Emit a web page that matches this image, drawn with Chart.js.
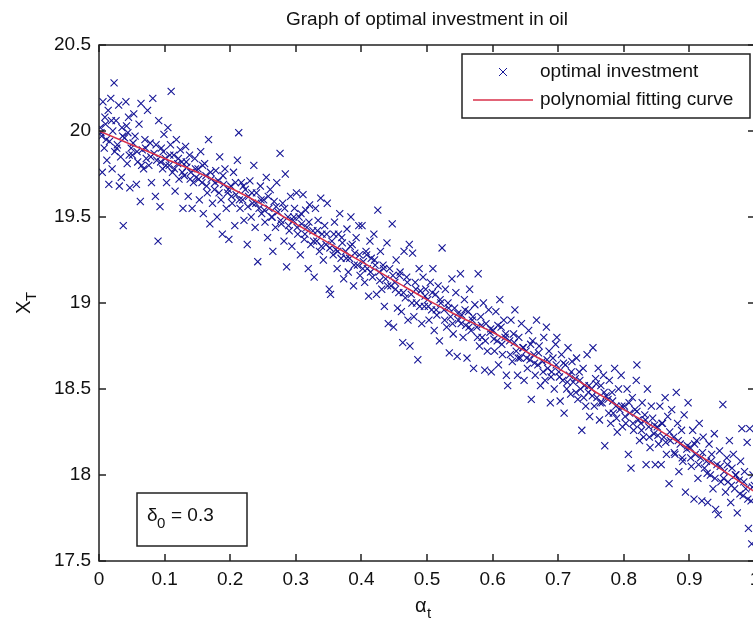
<!DOCTYPE html>
<html>
<head>
<meta charset="utf-8">
<title>Graph of optimal investment in oil</title>
<script src="https://cdn.jsdelivr.net/npm/chart.js@4/dist/chart.umd.min.js"></script>
<style>
  html, body { margin: 0; padding: 0; background: #fff; overflow: hidden; }
  #wrap { width: 800px; height: 620px; }
</style>
</head>
<body>
<div id="wrap"><canvas id="oilChart" width="800" height="620"></canvas></div>
<script>
// --- data ---
const xTicks = [0, 0.1, 0.2, 0.3, 0.4, 0.5, 0.6, 0.7, 0.8, 0.9, 1];
const yTicks = [17.5, 18, 18.5, 19, 19.5, 20, 20.5];

// polynomial fitting curve
const fitAlpha = [0, 0.05, 0.1, 0.15, 0.2, 0.25, 0.3, 0.35, 0.4, 0.45, 0.5, 0.55, 0.6, 0.65, 0.7, 0.75, 0.8, 0.85, 0.9, 0.95, 1];
const fitValues = [20.0, 19.92, 19.84, 19.76, 19.67, 19.57, 19.46, 19.35, 19.24, 19.13, 19.02, 18.92, 18.83, 18.72, 18.62, 18.5, 18.38, 18.27, 18.15, 18.03, 17.9];

// optimal investment samples [alpha_t, X_T], the wider spread
const investPoints = [
  [0.002,20.02],[0.004,19.97],[0.006,20.17],[0.008,19.9],[0.01,20.04],[0.012,19.83],[0.014,20.12],[0.016,19.94],[0.018,20.19],[0.02,19.78],[0.021,20.0],[0.023,20.28],[0.024,19.88],[0.005,19.76],[0.015,19.69],
  [0.026,20.06],[0.028,19.92],[0.03,20.15],[0.031,19.68],[0.033,19.85],[0.035,20.02],[0.037,19.45],[0.039,19.96],[0.041,20.17],[0.043,19.81],[0.045,20.08],[0.047,19.67],[0.049,19.9],[0.034,19.73],[0.044,19.99],
  [0.051,19.86],[0.053,20.1],[0.055,19.97],[0.057,19.69],[0.059,19.82],[0.061,20.04],[0.063,19.59],[0.064,20.16],[0.066,19.89],[0.068,19.78],[0.07,19.95],[0.072,19.84],[0.074,20.12],
  [0.076,19.8],[0.078,19.93],[0.08,19.7],[0.082,20.19],[0.084,19.87],[0.086,19.62],[0.088,19.83],[0.09,19.36],[0.091,20.06],[0.093,19.56],[0.095,19.9],[0.097,19.78],[0.099,19.98],
  [0.101,19.84],[0.103,19.7],[0.105,20.02],[0.107,19.8],[0.109,19.92],[0.11,20.23],[0.112,19.76],[0.114,19.86],[0.116,19.65],[0.118,19.95],[0.12,19.81],[0.122,19.72],[0.124,19.89],
  [0.126,19.82],[0.128,19.55],[0.13,19.74],[0.132,19.91],[0.134,19.79],[0.136,19.62],[0.138,19.86],[0.14,19.76],[0.142,19.55],[0.144,19.7],[0.146,19.84],[0.148,19.73],
  [0.151,19.78],[0.153,19.6],[0.155,19.88],[0.157,19.7],[0.159,19.52],[0.161,19.81],[0.163,19.74],[0.165,19.64],[0.167,19.95],[0.169,19.46],[0.171,19.72],[0.173,19.58],
  [0.176,19.66],[0.178,19.77],[0.18,19.5],[0.182,19.71],[0.184,19.85],[0.186,19.6],[0.188,19.4],[0.19,19.69],[0.192,19.78],[0.194,19.55],[0.196,19.64],[0.198,19.37],
  [0.201,19.68],[0.203,19.58],[0.205,19.76],[0.207,19.45],[0.209,19.63],[0.211,19.83],[0.213,19.99],[0.215,19.55],[0.217,19.7],[0.219,19.6],[0.221,19.48],[0.223,19.66],
  [0.226,19.34],[0.228,19.62],[0.23,19.71],[0.232,19.5],[0.234,19.58],[0.236,19.8],[0.238,19.44],[0.24,19.64],[0.242,19.24],[0.244,19.55],[0.246,19.68],[0.248,19.52],
  [0.251,19.6],[0.253,19.47],[0.255,19.73],[0.257,19.38],[0.259,19.55],[0.261,19.66],[0.263,19.5],[0.265,19.3],[0.267,19.59],[0.269,19.44],[0.271,19.7],[0.273,19.53],
  [0.276,19.87],[0.278,19.46],[0.28,19.58],[0.282,19.36],[0.284,19.75],[0.286,19.21],[0.288,19.5],[0.29,19.42],[0.292,19.62],[0.294,19.33],[0.296,19.48],[0.298,19.55],
  [0.301,19.64],[0.303,19.4],[0.305,19.5],[0.307,19.28],[0.309,19.46],[0.311,19.63],[0.313,19.37],[0.315,19.54],[0.317,19.44],[0.319,19.2],[0.321,19.57],[0.323,19.34],
  [0.326,19.42],[0.328,19.15],[0.33,19.55],[0.332,19.36],[0.334,19.48],[0.336,19.3],[0.338,19.61],[0.34,19.4],[0.342,19.25],[0.344,19.45],[0.346,19.34],[0.348,19.58],
  [0.351,19.08],[0.353,19.05],[0.355,19.36],[0.357,19.28],[0.359,19.47],[0.361,19.31],[0.363,19.2],[0.365,19.4],[0.367,19.52],[0.369,19.26],[0.371,19.35],[0.373,19.14],
  [0.376,19.3],[0.378,19.43],[0.38,19.18],[0.382,19.26],[0.384,19.5],[0.386,19.34],[0.388,19.1],[0.39,19.29],[0.392,19.38],[0.394,19.22],[0.396,19.45],[0.398,19.16],
  [0.401,19.45],[0.403,19.24],[0.405,19.12],[0.407,19.3],[0.409,19.2],[0.411,19.04],[0.413,19.36],[0.415,19.26],[0.417,19.15],[0.419,19.4],[0.421,19.22],[0.423,19.05],[0.425,19.54],
  [0.427,19.18],[0.429,19.3],[0.431,19.08],[0.433,19.22],[0.435,18.98],[0.437,19.14],[0.439,19.35],[0.441,18.88],[0.443,19.2],[0.445,19.1],[0.447,19.46],[0.449,18.86],
  [0.451,19.12],[0.453,19.25],[0.455,18.97],[0.457,19.06],[0.459,19.18],[0.461,18.95],[0.463,18.77],[0.465,19.3],[0.467,19.03],[0.469,19.15],[0.471,18.9],[0.473,19.34],[0.474,18.75],
  [0.476,19.05],[0.478,19.29],[0.48,18.92],[0.482,19.12],[0.484,19.0],[0.486,18.67],[0.488,19.2],[0.49,19.07],[0.492,18.88],[0.494,19.15],[0.496,18.98],[0.498,19.08],
  [0.501,19.02],[0.503,18.9],[0.505,19.12],[0.507,18.96],[0.509,19.2],[0.511,18.84],[0.513,19.05],[0.515,18.93],[0.517,19.1],[0.519,18.78],[0.521,19.0],[0.523,19.32],
  [0.526,18.96],[0.528,19.08],[0.53,18.86],[0.532,19.0],[0.534,18.71],[0.536,18.92],[0.538,19.14],[0.54,18.82],[0.542,18.97],[0.544,19.06],[0.546,18.69],[0.548,18.9],
  [0.551,19.17],[0.553,18.93],[0.555,18.8],[0.557,19.02],[0.559,18.87],[0.561,18.68],[0.563,18.95],[0.565,19.08],[0.567,18.84],[0.569,18.9],[0.571,18.62],[0.573,18.99],
  [0.576,18.86],[0.578,19.17],[0.58,18.75],[0.582,18.92],[0.584,18.8],[0.586,19.0],[0.588,18.61],[0.59,18.88],[0.592,18.72],[0.594,18.96],[0.596,18.83],[0.598,18.6],
  [0.601,18.84],[0.603,18.72],[0.605,18.95],[0.607,18.78],[0.609,18.64],[0.611,19.02],[0.613,18.86],[0.615,18.7],[0.617,18.9],[0.619,18.8],[0.621,18.58],[0.623,18.52],
  [0.626,18.78],[0.628,18.9],[0.63,18.66],[0.632,18.82],[0.634,18.96],[0.636,18.72],[0.638,18.58],[0.64,18.8],[0.642,18.68],[0.644,18.88],[0.646,18.74],[0.648,18.55],
  [0.651,18.72],[0.653,18.62],[0.655,18.84],[0.657,18.67],[0.659,18.44],[0.661,18.78],[0.663,18.7],[0.665,18.58],[0.667,18.9],[0.669,18.64],[0.671,18.75],[0.673,18.52],
  [0.676,18.66],[0.678,18.8],[0.68,18.55],[0.682,18.86],[0.684,18.62],[0.686,18.72],[0.688,18.42],[0.69,18.6],[0.692,18.68],[0.694,18.5],[0.696,18.76],[0.698,18.8],
  [0.701,18.6],[0.703,18.43],[0.705,18.7],[0.707,18.55],[0.709,18.36],[0.711,18.64],[0.713,18.5],[0.715,18.74],[0.717,18.58],[0.719,18.47],[0.721,18.66],[0.723,18.54],
  [0.726,18.56],[0.728,18.68],[0.73,18.44],[0.732,18.6],[0.734,18.5],[0.736,18.26],[0.738,18.62],[0.74,18.52],[0.742,18.4],[0.744,18.7],[0.746,18.48],[0.748,18.34],
  [0.751,18.5],[0.753,18.74],[0.755,18.4],[0.757,18.56],[0.759,18.45],[0.761,18.62],[0.763,18.32],[0.765,18.52],[0.767,18.42],[0.769,18.58],[0.771,18.17],[0.773,18.46],
  [0.776,18.44],[0.778,18.55],[0.78,18.3],[0.782,18.48],[0.784,18.36],[0.786,18.62],[0.788,18.4],[0.79,18.25],[0.792,18.5],[0.794,18.38],[0.796,18.58],[0.798,18.28],
  [0.801,18.4],[0.803,18.3],[0.805,18.5],[0.807,18.12],[0.809,18.36],[0.811,18.04],[0.813,18.45],[0.815,18.26],[0.817,18.38],[0.819,18.55],[0.82,18.64],[0.822,18.32],[0.824,18.2],
  [0.826,18.3],[0.828,18.42],[0.83,18.22],[0.832,18.35],[0.834,18.06],[0.836,18.5],[0.838,18.28],[0.84,18.16],[0.842,18.4],[0.844,18.33],[0.846,18.24],[0.848,18.06],
  [0.851,18.28],[0.853,18.18],[0.855,18.4],[0.857,18.06],[0.859,18.3],[0.861,18.22],[0.863,18.45],[0.865,18.12],[0.867,18.34],[0.869,17.95],[0.871,18.2],[0.873,18.38],
  [0.876,18.22],[0.878,18.12],[0.88,18.48],[0.882,18.3],[0.884,18.02],[0.886,18.18],[0.888,18.26],[0.89,18.08],[0.892,18.35],[0.894,17.9],[0.896,18.15],[0.898,18.42],
  [0.901,18.16],[0.903,18.05],[0.905,18.26],[0.907,17.86],[0.909,18.12],[0.911,18.2],[0.913,17.98],[0.915,18.3],[0.917,18.1],[0.919,17.85],[0.921,18.22],[0.923,18.04],
  [0.926,18.08],[0.928,17.84],[0.93,18.18],[0.932,18.0],[0.934,18.12],[0.936,17.92],[0.938,18.24],[0.94,17.8],[0.942,18.06],[0.944,17.77],[0.946,18.14],[0.948,17.96],
  [0.951,18.41],[0.953,18.02],[0.955,17.9],[0.957,18.1],[0.959,17.96],[0.961,18.2],[0.963,17.84],[0.965,18.04],[0.967,18.12],[0.969,17.92],[0.971,18.0],[0.973,17.78],
  [0.976,17.97],[0.978,18.08],[0.98,18.27],[0.982,17.88],[0.984,18.02],[0.986,17.92],[0.988,18.19],[0.99,17.69],[0.992,18.27],[0.994,17.85],[0.995,17.6],[0.997,18.0],[0.999,17.94]
];

// denser core of samples lying close to the fitted curve
const investCore = [
  [0.003,19.99],[0.011,19.95],[0.019,20.06],[0.027,19.9],[0.036,19.97],[0.046,19.86],[0.009,20.08],[0.042,20.03],
  [0.052,19.93],[0.058,19.88],[0.065,19.8],[0.071,19.9],[0.079,19.85],[0.087,19.92],[0.094,19.82],[0.098,19.88],
  [0.102,19.8],[0.108,19.86],[0.115,19.78],[0.121,19.84],[0.127,19.76],[0.133,19.82],[0.139,19.72],[0.147,19.78],
  [0.152,19.72],[0.158,19.8],[0.164,19.68],[0.17,19.76],[0.177,19.7],[0.183,19.64],[0.189,19.74],[0.197,19.66],
  [0.202,19.62],[0.208,19.7],[0.214,19.6],[0.22,19.68],[0.227,19.56],[0.233,19.64],[0.239,19.58],[0.247,19.6],
  [0.252,19.54],[0.258,19.62],[0.264,19.5],[0.27,19.56],[0.277,19.48],[0.283,19.55],[0.289,19.45],[0.297,19.5],
  [0.302,19.44],[0.308,19.52],[0.314,19.4],[0.32,19.47],[0.327,19.36],[0.333,19.42],[0.339,19.33],[0.347,19.4],
  [0.352,19.32],[0.358,19.4],[0.364,19.3],[0.37,19.38],[0.377,19.26],[0.383,19.33],[0.389,19.22],[0.397,19.28],
  [0.402,19.2],[0.408,19.28],[0.414,19.18],[0.42,19.25],[0.428,19.13],[0.434,19.2],[0.44,19.1],[0.448,19.16],
  [0.452,19.08],[0.458,19.16],[0.464,19.06],[0.47,19.12],[0.477,19.0],[0.483,19.08],[0.489,18.98],[0.497,19.04],
  [0.502,18.98],[0.508,19.06],[0.514,18.96],[0.52,19.02],[0.527,18.9],[0.533,18.97],[0.539,18.88],[0.547,18.94],
  [0.552,18.88],[0.558,18.96],[0.564,18.86],[0.57,18.92],[0.577,18.8],[0.583,18.87],[0.589,18.78],[0.597,18.85],
  [0.602,18.79],[0.608,18.87],[0.614,18.76],[0.62,18.82],[0.627,18.7],[0.633,18.77],[0.639,18.68],[0.647,18.74],
  [0.652,18.68],[0.658,18.76],[0.664,18.65],[0.67,18.71],[0.677,18.6],[0.683,18.67],[0.689,18.57],[0.697,18.64],
  [0.702,18.57],[0.708,18.65],[0.714,18.54],[0.72,18.6],[0.727,18.48],[0.733,18.55],[0.739,18.45],[0.747,18.52],
  [0.752,18.46],[0.758,18.53],[0.764,18.42],[0.77,18.48],[0.777,18.36],[0.783,18.43],[0.789,18.33],[0.797,18.4],
  [0.802,18.34],[0.808,18.42],[0.814,18.3],[0.82,18.37],[0.827,18.26],[0.833,18.32],[0.839,18.22],[0.847,18.29],
  [0.852,18.23],[0.858,18.3],[0.864,18.19],[0.87,18.25],[0.877,18.13],[0.883,18.2],[0.889,18.1],[0.897,18.17],
  [0.902,18.1],[0.908,18.18],[0.914,18.06],[0.92,18.13],[0.927,18.01],[0.933,18.08],[0.939,17.98],[0.947,18.05],
  [0.952,17.98],[0.958,18.06],[0.964,17.94],[0.97,18.0],[0.977,17.89],[0.983,17.96],[0.989,17.86],[0.996,17.93]
];

const FONT = '"Liberation Sans", Arial, Helvetica, sans-serif';
const MARK = 'rgb(22,22,150)';
const FIT = '#d8304a';
const AXIS = '#222';

// matlab-ish box, inward ticks, title, labels, legend and text box
const matlabDecor = {
  id: 'matlabDecor',
  afterDraw(chart) {
    const { ctx, chartArea: a, scales: { x, y } } = chart;
    ctx.save();
    ctx.strokeStyle = AXIS;
    ctx.lineWidth = 1.5;
    ctx.strokeRect(a.left, a.top, a.right - a.left, a.bottom - a.top);

    const tl = 7;
    ctx.beginPath();
    x.ticks.forEach(t => {
      const px = Math.round(x.getPixelForValue(t.value));
      ctx.moveTo(px, a.bottom); ctx.lineTo(px, a.bottom - tl);
      ctx.moveTo(px, a.top); ctx.lineTo(px, a.top + tl);
    });
    y.ticks.forEach(t => {
      const py = Math.round(y.getPixelForValue(t.value));
      ctx.moveTo(a.left, py); ctx.lineTo(a.left + tl, py);
      ctx.moveTo(a.right, py); ctx.lineTo(a.right - tl, py);
    });
    ctx.stroke();

    ctx.fillStyle = '#111';
    // title
    ctx.font = '19px ' + FONT;
    ctx.textAlign = 'center';
    ctx.textBaseline = 'middle';
    ctx.fillText('Graph of optimal investment in oil', (a.left + a.right) / 2, 20);

    // x label: alpha_t
    ctx.font = '20px ' + FONT;
    ctx.textAlign = 'left';
    ctx.textBaseline = 'alphabetic';
    ctx.fillText('α', 415, 612);
    ctx.font = '15px ' + FONT;
    ctx.fillText('t', 427, 618);

    // y label: X_T (rotated)
    ctx.save();
    ctx.translate(30, 314);
    ctx.rotate(-Math.PI / 2);
    ctx.font = '20px ' + FONT;
    ctx.fillText('X', 0, 0);
    ctx.font = '15px ' + FONT;
    ctx.fillText('T', 13, 6);
    ctx.restore();

    // text box delta_0 = 0.3
    ctx.fillStyle = '#fff';
    ctx.fillRect(137, 493, 110, 53);
    ctx.strokeStyle = AXIS;
    ctx.lineWidth = 1.5;
    ctx.strokeRect(137, 493, 110, 53);
    ctx.fillStyle = '#111';
    ctx.font = '19px ' + FONT;
    ctx.fillText('δ', 147, 521);
    ctx.font = '15px ' + FONT;
    ctx.fillText('0', 157, 528);
    ctx.font = '19px ' + FONT;
    ctx.fillText('= 0.3', 171, 521);

    // legend
    const lx = 462, ly = 54, lw = 288, lh = 64;
    ctx.fillStyle = '#fff';
    ctx.fillRect(lx, ly, lw, lh);
    ctx.strokeRect(lx, ly, lw, lh);
    ctx.strokeStyle = MARK;
    ctx.lineWidth = 1;
    ctx.beginPath();
    ctx.moveTo(499, 68); ctx.lineTo(507, 76);
    ctx.moveTo(507, 68); ctx.lineTo(499, 76);
    ctx.stroke();
    ctx.strokeStyle = FIT;
    ctx.lineWidth = 1.5;
    ctx.beginPath();
    ctx.moveTo(473, 100); ctx.lineTo(533, 100);
    ctx.stroke();
    ctx.fillStyle = '#111';
    ctx.font = '19px ' + FONT;
    ctx.textBaseline = 'middle';
    ctx.fillText('optimal investment', 540, 72);
    ctx.fillText('polynomial fitting curve', 540, 100);
    ctx.restore();
  }
};

const fmt = v => String(Math.round(v * 10) / 10);

new Chart(document.getElementById('oilChart'), {
  type: 'scatter',
  data: {
    datasets: [
      {
        label: 'polynomial fitting curve',
        type: 'line',
        data: fitAlpha.map((a, i) => ({ x: a, y: fitValues[i] })),
        borderColor: FIT,
        borderWidth: 1.5,
        pointRadius: 0,
        fill: false,
        cubicInterpolationMode: 'monotone',
        order: 0
      },
      {
        label: 'optimal investment',
        data: investPoints.concat(investCore).map(p => ({ x: p[0], y: p[1] })),
        pointStyle: 'crossRot',
        pointRadius: 5,
        borderColor: MARK,
        backgroundColor: MARK,
        pointBorderWidth: 1.1,
        order: 1
      }
    ]
  },
  options: {
    responsive: false,
    animation: false,
    devicePixelRatio: 1,
    layout: { padding: { top: 45, right: 45, left: 0, bottom: 0 } },
    plugins: {
      legend: { display: false },
      title: { display: false },
      tooltip: { enabled: false }
    },
    scales: {
      x: {
        type: 'linear',
        min: 0,
        max: 1,
        afterBuildTicks: s => { s.ticks = xTicks.map(v => ({ value: v })); },
        afterFit: s => { s.height = 59; },
        grid: { display: false, drawTicks: false },
        border: { display: false },
        ticks: { color: '#111', font: { family: FONT, size: 19 }, padding: 7, callback: fmt, maxRotation: 0 }
      },
      y: {
        type: 'linear',
        min: 17.5,
        max: 20.5,
        afterBuildTicks: s => { s.ticks = yTicks.map(v => ({ value: v })); },
        afterFit: s => { s.width = 99; },
        grid: { display: false, drawTicks: false },
        border: { display: false },
        ticks: { color: '#111', font: { family: FONT, size: 19 }, padding: 8, callback: fmt }
      }
    }
  },
  plugins: [matlabDecor]
});
</script>
</body>
</html>
